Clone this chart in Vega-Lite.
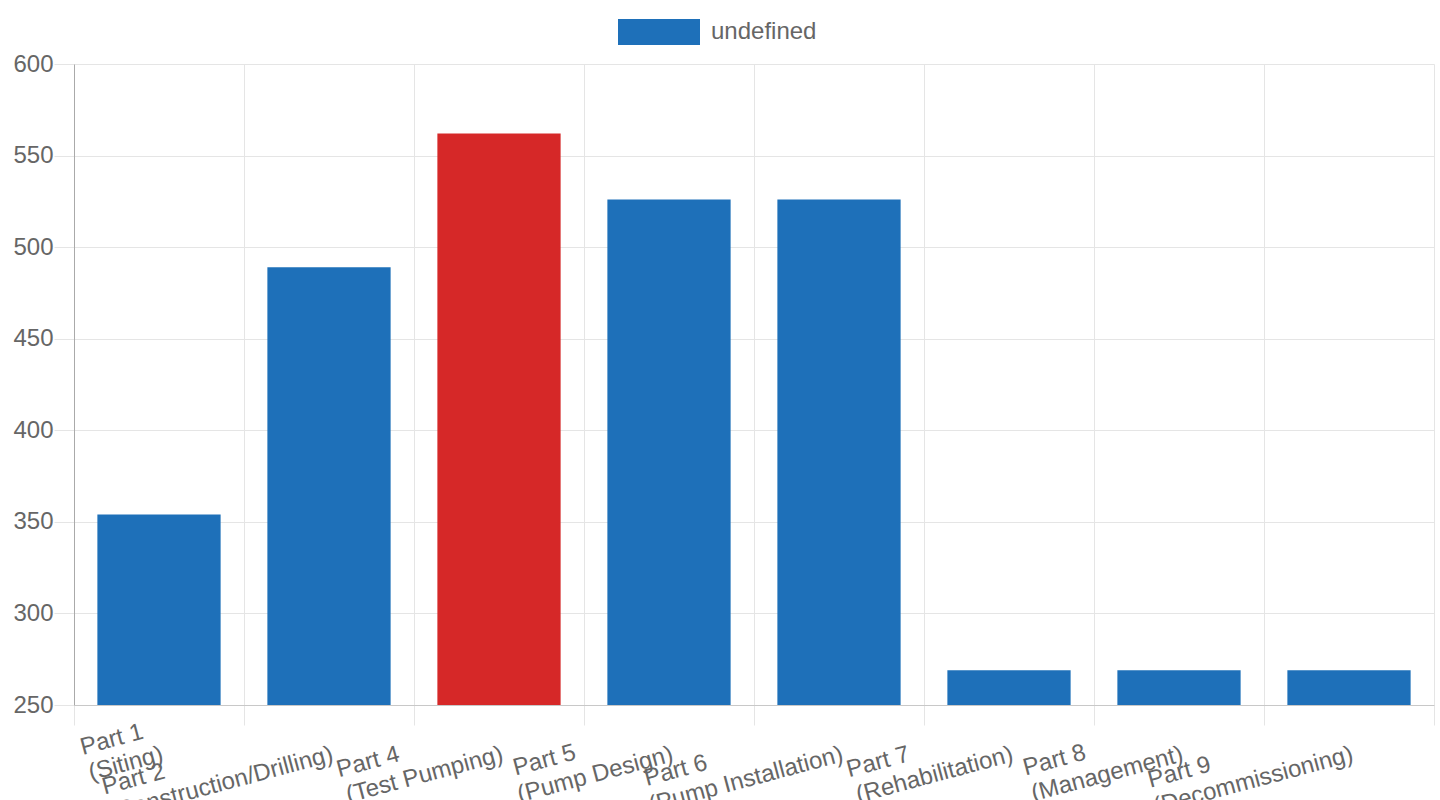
{
  "$schema": "https://vega.github.io/schema/vega-lite/v6.json",
  "width": 1360,
  "height": 641,
  "autosize": {"type": "none"},
  "padding": {"left": 74, "top": 64, "right": 6, "bottom": 95},
  "background": "white",
  "config": {"view": {"stroke": null}, "font": "Liberation Sans"},
  "data": {
    "values": [
      {"part": "Part 1\n(Siting)", "value": 354, "series": "undefined"},
      {"part": "Part 2\n(Construction/Drilling)", "value": 489, "series": "undefined"},
      {"part": "Part 4\n(Test Pumping)", "value": 562, "series": "highlight"},
      {"part": "Part 5\n(Pump Design)", "value": 526, "series": "undefined"},
      {"part": "Part 6\n(Pump Installation)", "value": 526, "series": "undefined"},
      {"part": "Part 7\n(Rehabilitation)", "value": 269, "series": "undefined"},
      {"part": "Part 8\n(Management)", "value": 269, "series": "undefined"},
      {"part": "Part 9\n(Decommissioning)", "value": 269, "series": "undefined"}
    ]
  },
  "mark": {"type": "bar", "width": {"band": 0.725}},
  "encoding": {
    "x": {
      "field": "part",
      "type": "nominal",
      "sort": null,
      "scale": {"paddingInner": 0, "paddingOuter": 0},
      "axis": {
        "title": null,
        "tickBand": "extent",
        "grid": true,
        "gridColor": "#e5e5e5",
        "tickColor": "#e5e5e5",
        "tickSize": 20,
        "domainColor": "#c8c8c8",
        "labelAngle": -15,
        "labelAlign": "right",
        "labelBaseline": "top",
        "labelFontSize": 24,
        "labelColor": "#666666",
        "labelLineHeight": 27,
        "labelPadding": -9,
        "labelOffset": -7,
        "labelOverlap": false,
        "labelLimit": 1000,
        "labelExpr": "[pad(substring(datum.label, 0, 6), 6 + (substring(datum.label, 5, 6) == '1' ? 2 : substring(datum.label, 5, 6) == '2' ? 25 : substring(datum.label, 5, 6) == '4' ? 15 : substring(datum.label, 5, 6) == '5' ? 14 : substring(datum.label, 5, 6) == '6' ? 20 : substring(datum.label, 5, 6) == '7' ? 15 : substring(datum.label, 5, 6) == '8' ? 14 : 21), '\u00a0') + '\u200b', substring(datum.label, 7)]"
      }
    },
    "y": {
      "field": "value",
      "type": "quantitative",
      "scale": {"domain": [250, 600], "zero": false, "nice": false},
      "axis": {
        "title": null,
        "values": [250, 300, 350, 400, 450, 500, 550, 600],
        "gridColor": "#e5e5e5",
        "tickColor": "#e5e5e5",
        "tickSize": 20,
        "labelPadding": 1,
        "labelFontSize": 24,
        "labelColor": "#666666",
        "domainColor": "#aaaaaa"
      }
    },
    "y2": {"datum": 250},
    "color": {
      "field": "series",
      "type": "nominal",
      "scale": {"domain": ["undefined", "highlight"], "range": ["#1e70b9", "#d62828"]},
      "legend": {
        "values": ["undefined"],
        "title": null,
        "orient": "none",
        "legendX": 544,
        "legendY": -73,
        "symbolType": "M-1,-0.317H1V0.317H-1Z",
        "symbolSize": 6724,
        "symbolStrokeWidth": 0,
        "labelFontSize": 24,
        "labelColor": "#666666",
        "labelOffset": 11
      }
    }
  }
}
